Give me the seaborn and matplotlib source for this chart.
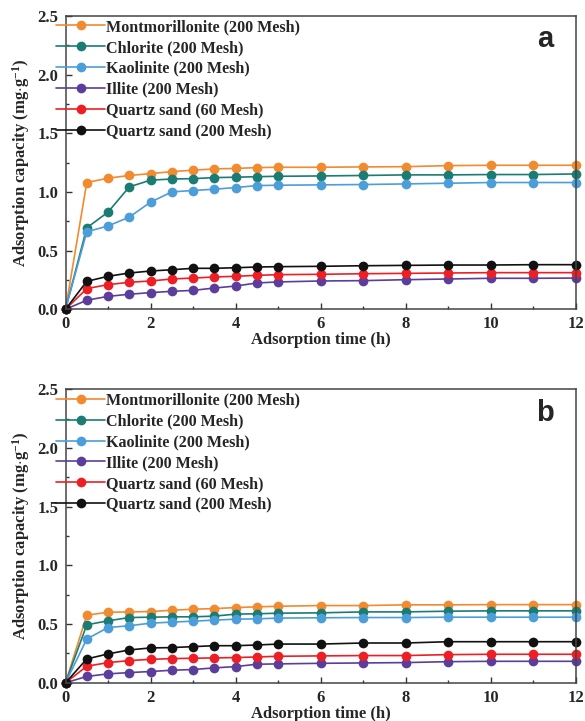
import pandas as pd
import matplotlib
matplotlib.use('Agg')
import matplotlib.pyplot as plt
import seaborn as sns
from matplotlib.ticker import MultipleLocator

# adsorption time (h)
time = [0, 0.5, 1, 1.5, 2, 2.5, 3, 3.5, 4, 4.5, 5, 6, 7, 8, 9, 10, 11, 12]

names = ['Montmorillonite (200 Mesh)', 'Chlorite (200 Mesh)', 'Kaolinite (200 Mesh)',
         'Illite (200 Mesh)', 'Quartz sand (60 Mesh)', 'Quartz sand (200 Mesh)']
colors = ['#F28A30', '#1A7C72', '#4C9ED9', '#5B3E9C', '#EE1F24', '#111111']

# panel a
mont_a = [0, 1.08, 1.117, 1.14, 1.156, 1.173, 1.185, 1.196, 1.20, 1.207, 1.21, 1.21, 1.213, 1.215, 1.224, 1.227, 1.227, 1.227]
chlo_a = [0, 0.694, 0.828, 1.043, 1.10, 1.11, 1.113, 1.122, 1.125, 1.13, 1.133, 1.136, 1.14, 1.145, 1.145, 1.148, 1.148, 1.153]
kaol_a = [0, 0.66, 0.71, 0.785, 0.913, 1.0, 1.012, 1.023, 1.037, 1.054, 1.057, 1.06, 1.063, 1.068, 1.074, 1.08, 1.08, 1.08]
illi_a = [0, 0.077, 0.11, 0.128, 0.142, 0.153, 0.161, 0.181, 0.198, 0.224, 0.233, 0.241, 0.244, 0.252, 0.258, 0.264, 0.264, 0.266]
qs60_a = [0, 0.176, 0.21, 0.23, 0.241, 0.258, 0.266, 0.275, 0.281, 0.289, 0.295, 0.298, 0.303, 0.306, 0.309, 0.312, 0.312, 0.312]
qs200_a = [0, 0.238, 0.281, 0.309, 0.326, 0.337, 0.349, 0.349, 0.354, 0.36, 0.363, 0.366, 0.371, 0.374, 0.377, 0.377, 0.38, 0.38]

# panel b
mont_b = [0, 0.576, 0.601, 0.604, 0.607, 0.618, 0.627, 0.632, 0.641, 0.647, 0.652, 0.658, 0.658, 0.664, 0.664, 0.666, 0.666, 0.666]
chlo_b = [0, 0.494, 0.528, 0.556, 0.559, 0.562, 0.562, 0.568, 0.585, 0.588, 0.593, 0.596, 0.604, 0.604, 0.61, 0.613, 0.613, 0.613]
kaol_b = [0, 0.373, 0.471, 0.486, 0.508, 0.517, 0.525, 0.534, 0.542, 0.545, 0.551, 0.554, 0.556, 0.556, 0.559, 0.559, 0.559, 0.559]
illi_b = [0, 0.054, 0.076, 0.087, 0.096, 0.107, 0.113, 0.127, 0.138, 0.158, 0.161, 0.166, 0.169, 0.172, 0.18, 0.183, 0.183, 0.183]
qs60_b = [0, 0.141, 0.172, 0.189, 0.20, 0.206, 0.209, 0.212, 0.215, 0.22, 0.226, 0.229, 0.232, 0.232, 0.24, 0.243, 0.243, 0.243]
qs200_b = [0, 0.203, 0.246, 0.28, 0.297, 0.30, 0.308, 0.316, 0.316, 0.322, 0.33, 0.33, 0.339, 0.339, 0.35, 0.35, 0.35, 0.35]

panels = [('a', [mont_a, chlo_a, kaol_a, illi_a, qs60_a, qs200_a]),
          ('b', [mont_b, chlo_b, kaol_b, illi_b, qs60_b, qs200_b])]

sns.set_theme(style='ticks')
plt.rcParams['font.family'] = ['Liberation Serif', 'DejaVu Serif']
plt.rcParams['font.weight'] = 'bold'
plt.rcParams['mathtext.fontset'] = 'custom'
plt.rcParams['mathtext.rm'] = 'Liberation Serif:bold'
plt.rcParams['mathtext.it'] = 'Liberation Serif:bold'
plt.rcParams['mathtext.bf'] = 'Liberation Serif:bold'

fig, axes = plt.subplots(2, 1, figsize=(5.85, 7.21), dpi=100)
fig.subplots_adjust(left=0.112, right=0.984, top=0.978, bottom=0.053, hspace=0.273)

for ax, (tag, series) in zip(axes, panels):
    for name, vals, col in zip(names, series, colors):
        df = pd.DataFrame({'time': time, 'q': vals})
        sns.lineplot(data=df, x='time', y='q', ax=ax, color=col, label=name,
                     marker='o', markersize=7, markeredgewidth=0,
                     linewidth=1.2, clip_on=False)

    ax.set_xlim(0, 12)
    ax.set_ylim(0, 2.5)
    ax.xaxis.set_major_locator(MultipleLocator(2))
    ax.xaxis.set_minor_locator(MultipleLocator(1))
    ax.yaxis.set_major_locator(MultipleLocator(0.5))
    ax.yaxis.set_minor_locator(MultipleLocator(0.25))
    ax.yaxis.set_major_formatter(plt.FormatStrFormatter('%.1f'))
    ax.tick_params(which='major', direction='in', length=4, width=1, labelsize=12, color='#333333')
    ax.tick_params(axis='x', which='major', pad=5)
    ax.tick_params(axis='y', which='major', pad=5)
    ax.tick_params(which='minor', direction='in', length=2.5, width=1, color='#333333')
    for sp in ax.spines.values():
        sp.set_visible(True)
        sp.set_color('#444444')
        sp.set_linewidth(1.1)
    for lab in ax.get_xticklabels() + ax.get_yticklabels():
        lab.set_fontweight('bold')

    ax.set_xlabel('Adsorption time (h)', fontsize=12, fontweight='bold', labelpad=0)
    ax.set_ylabel('Adsorption capacity (mg$\\cdot$g$^{-1}$)', fontsize=12, fontweight='bold', labelpad=4)

    ax.legend(loc='upper left', bbox_to_anchor=(-0.018, 0.989), frameon=False,
              handlelength=3.0, handletextpad=0.08,
              labelspacing=0.3, borderaxespad=0, borderpad=0,
              prop={'family': 'Liberation Serif', 'weight': 'bold', 'size': 11.6})

    ax.text(0.94, 0.92, tag, transform=ax.transAxes, ha='center', va='center',
            fontsize=21, fontweight='bold', family='Liberation Sans')

fig.savefig('out.png', dpi=100)
